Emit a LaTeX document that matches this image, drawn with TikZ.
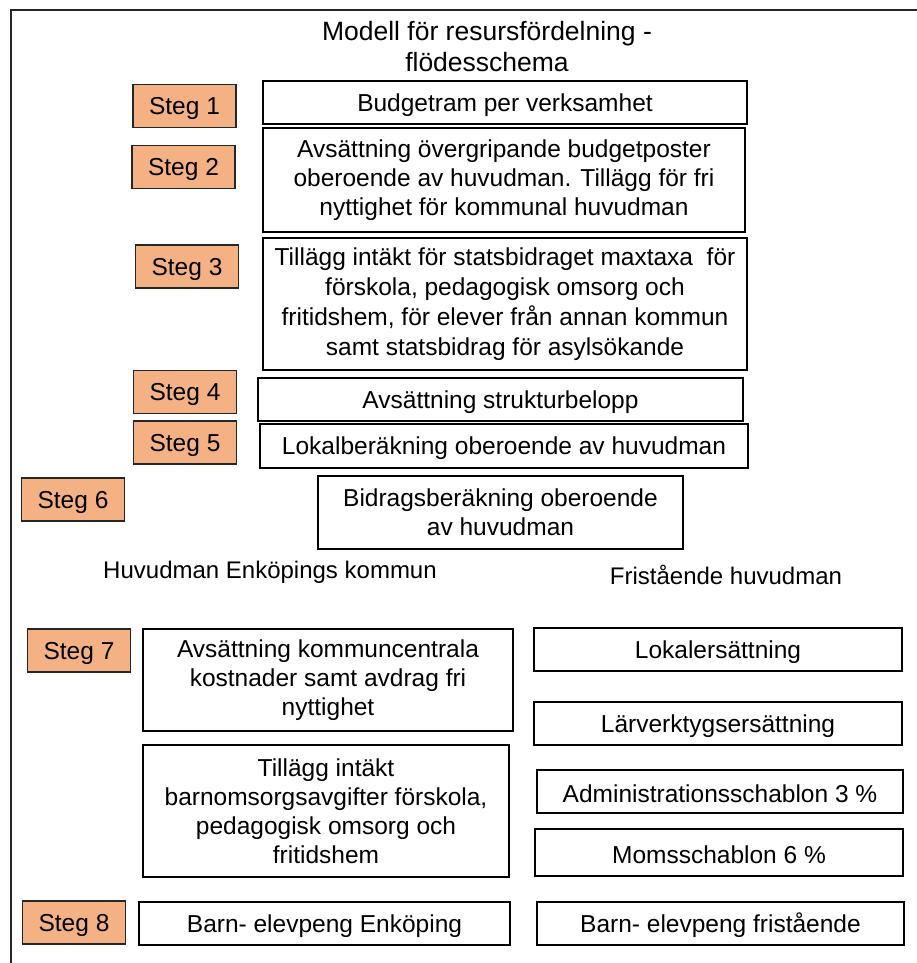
\documentclass[tikz,border=0pt]{standalone}
\usepackage{fontspec}
\setmainfont{Liberation Sans}
\definecolor{stegfill}{HTML}{F4B183}
\definecolor{linegray}{HTML}{262626}
\begin{document}
\begin{tikzpicture}[x=1pt,y=-1pt,
  every node/.style={font=\fontsize{24}{29}\selectfont, align=center, inner sep=0pt},
  boxtext/.style={font=\fontsize{24.5}{29}\selectfont, execute at begin node={\rule{0pt}{22.5pt}}},
  stegbox/.style={boxtext, draw=linegray, line width=1.4pt, fill=stegfill, minimum width=103pt, minimum height=43pt},
  wbox/.style={boxtext, draw=black, line width=1.6pt, fill=white},
  frameline/.style={draw=linegray, line width=1.5pt}]
\useasboundingbox (0,0) rectangle (917,963);
\draw[frameline] (11,963) -- (11,10) -- (917,10);

\node[font=\fontsize{26.5}{31}\selectfont] (title) at (487,47) {Modell för resursfördelning -\\flödesschema};

\node[stegbox] (s1) at (184.5,106) {Steg 1};
\node[stegbox] (s2) at (183.5,167) {Steg 2};
\node[stegbox] (s3) at (187,266.5) {Steg 3};
\node[stegbox] (s4) at (185,392) {Steg 4};
\node[stegbox] (s5) at (185,442.5) {Steg 5};
\node[stegbox] (s6) at (73,499.5) {Steg 6};
\node[stegbox] (s7) at (79,650.5) {Steg 7};
\node[stegbox] (s8) at (74,922.5) {Steg 8};

\node[wbox, minimum width=484pt, minimum height=43pt] (b1) at (505,102.5) {Budgetram per verksamhet};
\node[wbox, minimum width=482pt, minimum height=104pt] (b2) at (504,180) {Avsättning övergripande budgetposter\\oberoende av huvudman. Tillägg för fri\\nyttighet för kommunal huvudman};
\node[wbox, font=\fontsize{24.5}{30}\selectfont, minimum width=484pt, minimum height=132pt] (b3) at (505,304) {Tillägg intäkt för statsbidraget maxtaxa~ för\\förskola, pedagogisk omsorg och\\fritidshem, för elever från annan kommun\\samt statsbidrag för asylsökande};
\node[wbox, minimum width=485pt, minimum height=43pt] (b4) at (500.5,399.5) {Avsättning strukturbelopp};
\node[wbox, minimum width=488pt, minimum height=44pt] (b5) at (504,446) {Lokalberäkning oberoende av huvudman};
\node[wbox, minimum width=365pt, minimum height=73pt] (b6) at (500.5,512.5) {Bidragsberäkning oberoende\\av huvudman};

\node (hk) at (270,572) {Huvudman Enköpings kommun};
\node (hf) at (726,575) {Fristående huvudman};

\node[wbox, minimum width=370pt, minimum height=102pt] (k1) at (328,680) {Avsättning kommuncentrala\\kostnader samt avdrag fri\\nyttighet};
\node[wbox, minimum width=366pt, minimum height=132pt] (k2) at (326,811) {Tillägg intäkt\\barnomsorgsavgifter förskola,\\pedagogisk omsorg och\\fritidshem};
\node[wbox, minimum width=371pt, minimum height=43pt] (k3) at (324.5,923.5) {Barn- elevpeng Enköping};

\node[wbox, minimum width=368pt, minimum height=43pt] (f1) at (718,649.5) {Lokalersättning};
\node[wbox, minimum width=368pt, minimum height=43pt] (f2) at (718,723.5) {Lärverktygsersättning};
\node[wbox, minimum width=366pt, minimum height=43pt] (f3) at (720,791.5) {Administrationsschablon 3 \%};
\node[wbox, minimum width=368pt, minimum height=47pt] (f4) at (719,852.5) {Momsschablon 6 \%};
\node[wbox, minimum width=367pt, minimum height=43pt] (f5) at (720.5,923.5) {Barn- elevpeng fristående};
\end{tikzpicture}
\end{document}
